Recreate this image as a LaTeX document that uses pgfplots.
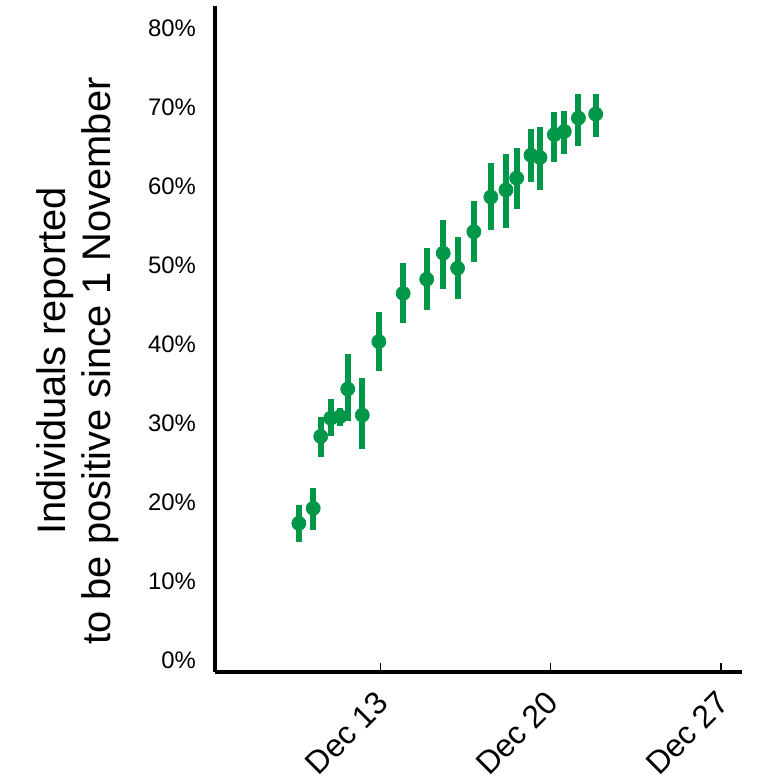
\documentclass[border=0pt]{standalone}
\usepackage{pgfplots}
\pgfplotsset{compat=1.18}
\usepackage{pgfplotstable}
\usepackage{fontspec}
\setmainfont{Liberation Sans}
\definecolor{pgreen}{RGB}{0,152,72}

\pgfplotstableread{
x y ep em
-3.36 17.3 2.3 2.4
-2.77 19.2 2.6 2.7
-2.46 28.3 2.5 2.6
-2.05 30.6 2.4 2.2
-1.67 30.8 1.1 1.2
-1.35 34.3 4.4 4.0
-0.75 31.0 4.7 4.3
-0.07 40.3 3.7 3.7
0.93 46.4 3.8 3.7
1.90 48.2 4.0 3.9
2.58 51.5 4.2 4.5
3.17 49.6 4.0 3.9
3.84 54.2 3.9 3.8
4.54 58.6 4.3 4.2
5.16 59.5 4.5 4.8
5.60 61.0 3.8 3.9
6.19 63.9 3.3 3.4
6.56 63.6 3.8 4.1
7.15 66.5 2.8 3.5
7.56 66.9 2.6 2.8
8.14 68.6 3.1 3.5
8.85 69.1 2.6 2.9
}\datatable

\begin{document}
\begin{tikzpicture}
\path[use as bounding box] (-107.5bp,-53.5bp) rectangle (276bp,336bp);
\begin{axis}[
  scale only axis,
  width=263.5bp, height=333bp,
  xmin=-6.81, xmax=14.87, ymin=-1.52, ymax=82.78,
  axis x line*=bottom, axis y line*=left,
  axis line style={line width=2bp, black},
  /pgf/number format/assume math mode=true,
  xtick={0,7,14}, xticklabels={Dec 13, Dec 20, Dec 27},
  ytick={0,10,...,80},
  yticklabel={\pgfmathprintnumber{\tick}\%},
  tick align=inside,
  major tick length=4.5bp,
  x tick style={line width=0.7bp, black},
  y tick style={draw=none},
  yticklabel style={font=\fontsize{12}{14}\selectfont, anchor=east, xshift=-6bp},
  xticklabel style={xshift=-3bp, yshift=-7bp, rotate=45, anchor=north east, inner sep=1bp, font=\fontsize{16}{19}\selectfont},
  ylabel={Individuals reported\\to be positive since 1 November},
  ylabel style={at={(axis description cs:-0.169,0.467)}, anchor=south, align=center, font=\fontsize{20}{22.5}\selectfont},
  clip=false,
]
\addplot[only marks, mark=*, mark size=3.5bp, color=pgreen,
  mark options={fill=pgreen, draw=pgreen},
  error bars/.cd, y dir=both, y explicit, error mark=none,
  error bar style={line width=3bp, pgreen}]
  table[x=x, y=y, y error plus=ep, y error minus=em] {\datatable};
\end{axis}
\end{tikzpicture}
\end{document}
